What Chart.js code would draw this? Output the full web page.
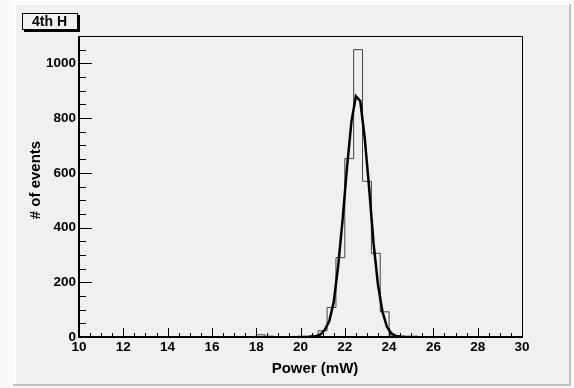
<!DOCTYPE html>
<html lang="en">
<head>
    <meta charset="UTF-8">
    <title>4th H</title>
    <script src="https://cdn.jsdelivr.net/npm/chart.js@4.4.1/dist/chart.umd.min.js"></script>
    <style>
        * {
            margin: 0;
            padding: 0;
            box-sizing: border-box;
        }

        body {
            background: #fafafa;
            width: 574px;
            height: 388px;
            overflow: hidden;
        }

        .chart-box {
            position: relative;
            width: 574px;
            height: 388px;
        }
    </style>
</head>
<body>
    <div class="chart-box">
        <canvas id="powerChart" width="574" height="388"></canvas>
    </div>

    <script>
        // Histogram: 50 bins of 0.4 mW between 10 and 30 mW
        const binStart = 10;
        const binWidth = 0.4;
        const counts = [
            0, 0, 0, 0, 0, 0, 0, 0, 0, 0,
            0, 0, 0, 0, 0, 0, 0, 0, 0, 0,
            8, 3, 0, 1, 2, 2, 5, 23, 108, 290,
            652, 1050, 569, 306, 92, 4, 0, 0, 0, 0,
            0, 0, 0, 0, 0, 0, 0, 0, 0, 0
        ];

        // Gaussian fit
        const fitX = [19.9, 20.1, 20.3, 20.5, 20.7, 20.9, 21.1, 21.3, 21.5, 21.7, 21.9, 22.1, 22.3, 22.5,
                      22.7, 22.9, 23.1, 23.3, 23.5, 23.7, 23.9, 24.1, 24.3, 24.5, 24.7, 24.9, 25.1, 25.3];
        const fitY = [0, 0, 0.1, 0.8, 2.9, 9, 26, 58, 128, 259, 428, 620, 787, 880,
                      862, 727, 543, 340, 190, 92, 38, 13, 4, 1.7, 0.5, 0.1, 0, 0];

        // Axis labels
        const xTickValues = [10, 12, 14, 16, 18, 20, 22, 24, 26, 28, 30];
        const yTickValues = [0, 200, 400, 600, 800, 1000];

        const histPoints = counts.map((c, i) => ({ x: binStart + i * binWidth, y: c }));
        histPoints.push({ x: binStart + counts.length * binWidth, y: counts[counts.length - 1] });
        const fitPoints = fitX.map((x, i) => ({ x: x, y: fitY[i] }));

        const boldFont = '"Liberation Sans", Arial, sans-serif';

        // ROOT-like pad, frame, inward ticks and titles
        const rootStyle = {
            id: 'rootStyle',
            beforeDraw(chart) {
                const ctx = chart.ctx;
                ctx.save();
                ctx.fillStyle = '#fafafa';
                ctx.fillRect(0, 0, 574, 388);
                ctx.fillStyle = '#ffffff';
                ctx.fillRect(13, 3, 558, 383);
                ctx.fillStyle = '#f0f0f0';
                ctx.fillRect(16, 5, 553, 379);
                ctx.fillStyle = '#c2c2c2';
                ctx.fillRect(569, 4, 2, 382);
                ctx.fillRect(13, 384, 558, 2);
                ctx.restore();
            },
            afterDraw(chart) {
                const ctx = chart.ctx;
                const area = chart.chartArea;
                const xs = chart.scales.x;
                const ys = chart.scales.y;
                ctx.save();

                // frame
                ctx.strokeStyle = '#000';
                ctx.lineWidth = 1;
                ctx.beginPath();
                ctx.moveTo(area.left, area.top + 0.5);
                ctx.lineTo(area.right + 0.5, area.top + 0.5);
                ctx.lineTo(area.right + 0.5, area.bottom);
                ctx.stroke();

                // axes
                ctx.lineWidth = 2;
                ctx.beginPath();
                ctx.moveTo(area.left, area.top);
                ctx.lineTo(area.left, area.bottom);
                ctx.lineTo(area.right + 1, area.bottom);
                ctx.stroke();

                // ticks
                ctx.lineWidth = 1;
                ctx.beginPath();
                for (let v = xs.min; v <= xs.max + 1e-6; v += 0.5) {
                    const px = Math.round(xs.getPixelForValue(v)) + 0.5;
                    const major = Math.abs(v / 2 - Math.round(v / 2)) < 1e-6;
                    ctx.moveTo(px, area.bottom);
                    ctx.lineTo(px, area.bottom - (major ? 9 : 4));
                }
                for (let v = ys.min; v <= ys.max + 1e-6; v += 50) {
                    const py = Math.round(ys.getPixelForValue(v)) + 0.5;
                    const major = v % 200 === 0;
                    ctx.moveTo(area.left, py);
                    ctx.lineTo(area.left + (major ? 13 : 7), py);
                }
                ctx.stroke();

                // axis titles
                ctx.fillStyle = '#000';
                ctx.font = 'bold 15px ' + boldFont;
                ctx.textAlign = 'center';
                ctx.textBaseline = 'middle';
                ctx.fillText('Power (mW)', 315, 369);
                ctx.save();
                ctx.translate(36, 180);
                ctx.rotate(-Math.PI / 2);
                ctx.fillText('# of events', 0, 0);
                ctx.restore();

                // title box
                ctx.fillStyle = '#000';
                ctx.fillRect(24, 15, 56, 17);
                ctx.fillStyle = '#f0f0f0';
                ctx.fillRect(22, 13, 56, 17);
                ctx.strokeStyle = '#000';
                ctx.lineWidth = 1;
                ctx.strokeRect(22.5, 13.5, 55, 16);
                ctx.fillStyle = '#000';
                ctx.font = 'bold 14px ' + boldFont;
                ctx.fillText('4th H', 49.5, 22);

                ctx.restore();
            }
        };

        const ctx = document.getElementById('powerChart').getContext('2d');

        new Chart(ctx, {
            type: 'line',
            data: {
                datasets: [
                    {
                        label: 'Gaussian fit',
                        data: fitPoints,
                        borderColor: '#000',
                        borderWidth: 2.5,
                        pointRadius: 0,
                        tension: 0,
                        fill: false
                    },
                    {
                        label: '4th H',
                        data: histPoints,
                        borderColor: '#444',
                        borderWidth: 1,
                        pointRadius: 0,
                        stepped: 'before',
                        fill: false
                    }
                ]
            },
            options: {
                responsive: false,
                devicePixelRatio: 1,
                animation: false,
                layout: {
                    padding: { left: 0, top: 36, right: 52, bottom: 0 }
                },
                plugins: {
                    legend: { display: false },
                    tooltip: { enabled: false }
                },
                scales: {
                    x: {
                        type: 'linear',
                        min: 10,
                        max: 30,
                        grid: { display: false, drawTicks: false },
                        border: { display: false },
                        afterBuildTicks: (s) => { s.ticks = xTickValues.map(v => ({ value: v })); },
                        afterFit: (s) => { s.height = 51; },
                        ticks: {
                            color: '#000',
                            padding: 2,
                            maxRotation: 0,
                            autoSkip: false,
                            callback: (v) => String(v),
                            font: { family: boldFont, size: 13.5, weight: 'bold' }
                        }
                    },
                    y: {
                        min: 0,
                        max: 1100,
                        grid: { display: false, drawTicks: false },
                        border: { display: false },
                        afterBuildTicks: (s) => { s.ticks = yTickValues.map(v => ({ value: v })); },
                        afterFit: (s) => { s.width = 79; },
                        ticks: {
                            color: '#000',
                            padding: 3,
                            callback: (v) => String(v),
                            font: { family: boldFont, size: 13.5, weight: 'bold' }
                        }
                    }
                }
            },
            plugins: [rootStyle]
        });
    </script>
</body>
</html>
